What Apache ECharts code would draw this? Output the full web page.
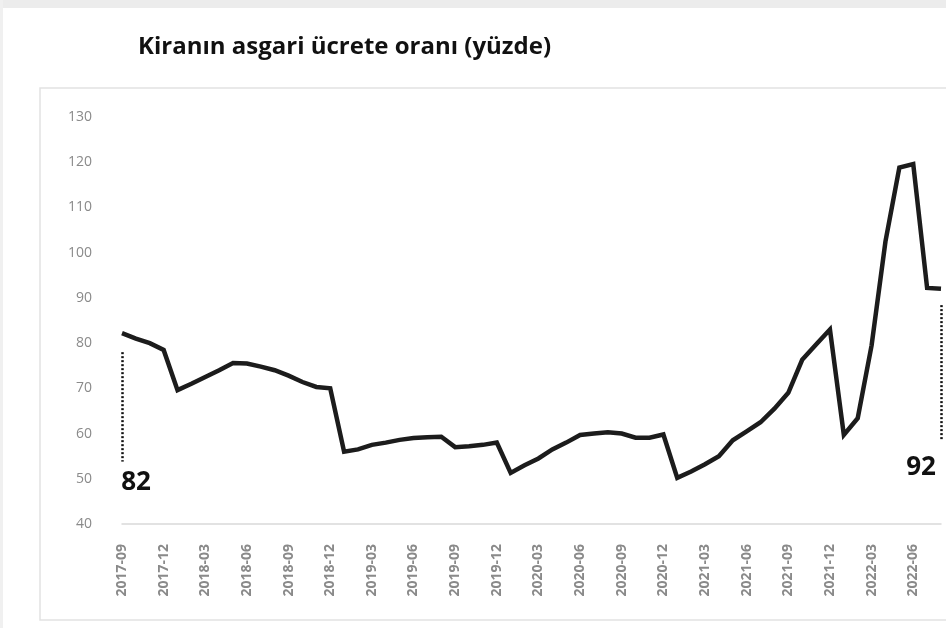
<!DOCTYPE html>
<html>
<head>
<meta charset="utf-8">
<script src="https://cdn.jsdelivr.net/npm/echarts@6/dist/echarts.min.js"></script>
<style>
html,body{margin:0;padding:0;background:#fff;}
#c{width:946px;height:628px;}
</style>
</head>
<body>
<div id="c"></div>
<script>
const months = [
 '2017-09','2017-10','2017-11','2017-12',
 '2018-01','2018-02','2018-03','2018-04','2018-05','2018-06','2018-07','2018-08','2018-09','2018-10','2018-11','2018-12',
 '2019-01','2019-02','2019-03','2019-04','2019-05','2019-06','2019-07','2019-08','2019-09','2019-10','2019-11','2019-12',
 '2020-01','2020-02','2020-03','2020-04','2020-05','2020-06','2020-07','2020-08','2020-09','2020-10','2020-11','2020-12',
 '2021-01','2021-02','2021-03','2021-04','2021-05','2021-06','2021-07','2021-08','2021-09','2021-10','2021-11','2021-12',
 '2022-01','2022-02','2022-03','2022-04','2022-05','2022-06','2022-07','2022-08'
];
const rentRatio = [
 82.2, 81.0, 80.0, 78.5,
 69.6, 71.0, 72.5, 74.0, 75.6, 75.5, 74.8, 74.0, 72.8, 71.4, 70.3, 70.0,
 56.0, 56.5, 57.5, 58.0, 58.6, 59.0, 59.2, 59.3, 57.0, 57.2, 57.5, 58.0,
 51.3, 53.0, 54.5, 56.5, 58.0, 59.7, 60.0, 60.3, 60.0, 59.1, 59.1, 59.8,
 50.2, 51.6, 53.2, 55.0, 58.5, 60.5, 62.5, 65.5, 69.0, 76.3, 79.7, 83.0,
 59.7, 63.4, 79.5, 102.5, 118.8, 119.6, 92.2, 92.0
];
const titleText = 'Kiranın asgari ücrete oranı (yüzde)';
const startLabel = '82';
const endLabel = '92';
const startGuide = [78, 53.8];
const endGuide = [88.4, 58.5];

const chart = echarts.init(document.getElementById('c'));
chart.setOption({
  backgroundColor: '#ffffff',
  animation: false,
  title: {
    text: titleText,
    left: 133, top: 30,
    textStyle: {fontFamily: 'Open Sans', fontWeight: 'bold', fontSize: 24, color: '#111'}
  },
  graphic: [
    {type: 'rect', shape: {x: 0, y: 0, width: 946, height: 8}, style: {fill: '#ececec'}, z: -1},
    {type: 'rect', shape: {x: 0, y: 0, width: 3, height: 628}, style: {fill: '#f0f0f0'}, z: -1},
    {type: 'rect', shape: {x: 40, y: 88, width: 940, height: 532}, style: {fill: 'none', stroke: '#e2e2e2', lineWidth: 1.5}, z: -1}
  ],
  grid: {left: 122, right: 5, top: 117, bottom: 104},
  xAxis: {
    type: 'category',
    data: months,
    boundaryGap: false,
    axisLine: {lineStyle: {color: '#d9d9d9', width: 1.5}},
    axisTick: {show: false},
    axisLabel: {
      interval: 2, rotate: 90, color: '#8a8a8a', fontSize: 14, fontWeight: 'bold',
      fontFamily: 'Open Sans', margin: 20
    }
  },
  yAxis: {
    type: 'value', min: 40, max: 130, interval: 10,
    axisLine: {show: false}, axisTick: {show: false},
    splitLine: {show: false},
    axisLabel: {color: '#8a8a8a', fontSize: 14, fontFamily: 'Open Sans', margin: 30}
  },
  series: [{
    type: 'line',
    data: rentRatio,
    symbol: 'none',
    lineStyle: {color: '#1c1c1c', width: 4.5, join: 'miter'},
    markLine: {
      silent: true,
      symbol: 'none',
      lineStyle: {type: [2, 2], color: '#111', width: 2.5},
      label: {show: true, position: 'end', fontSize: 26, fontWeight: 'bold', fontFamily: 'Open Sans', color: '#111', distance: 4},
      data: [
        [{coord: [months[0], startGuide[0]]}, {coord: [months[0], startGuide[1]], label: {formatter: startLabel, offset: [14, 4]}}],
        [{coord: [months[months.length-1], endGuide[0]]}, {coord: [months[months.length-1], endGuide[1]], label: {formatter: endLabel, offset: [-20, 10]}}]
      ]
    }
  }]
});
</script>
</body>
</html>
